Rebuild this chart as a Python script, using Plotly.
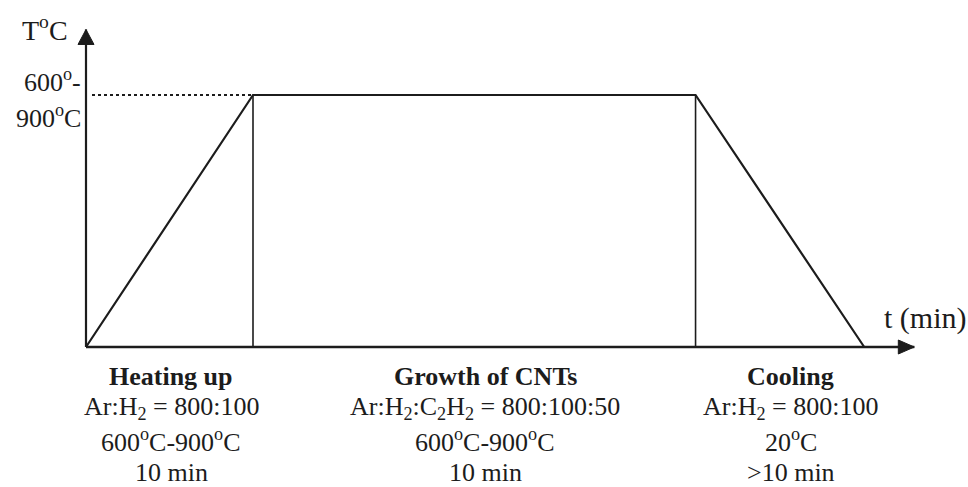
import plotly.graph_objects as go

# Schematic CVD temperature programme: heating, CNT growth, cooling
stage_t = [0, 10, 36.5, 46.6]   # stage boundaries along the (schematic) time axis
stage_T = [0, 1, 1, 0]          # normalised temperature: 0 = ambient, 1 = 600-900 °C

stage_names = ["Heating up", "Growth of CNTs", "Cooling"]
gas_ratios = [
    "Ar:H<sub>2</sub> = 800:100",
    "Ar:H<sub>2</sub>:C<sub>2</sub>H<sub>2</sub> = 800:100:50",
    "Ar:H<sub>2</sub> = 800:100",
]
stage_temps = ["600<sup>o</sup>C-900<sup>o</sup>C", "600<sup>o</sup>C-900<sup>o</sup>C", "20<sup>o</sup>C"]
stage_times = ["10 min", "10 min", "&gt;10 min"]
stage_label_t = [5.1, 23.9, 42.2]

t_axis_end = 49.6
T_axis_end = 1.26

INK = "#1c1c1c"
FONT = "Liberation Serif"
W, H = 968, 487
X0_PX, Y0_PX = 86, 347
PX_PER_T, PX_PER_T_UNIT = 16.7, 252.0


def y_at(px):
    return (Y0_PX - px) / PX_PER_T_UNIT


def x_at(px):
    return (px - X0_PX) / PX_PER_T


fig = go.Figure()

# axes
fig.add_trace(go.Scatter(x=[0, t_axis_end], y=[0, 0], mode="lines",
                         line=dict(color=INK, width=2.5), hoverinfo="skip"))
fig.add_trace(go.Scatter(x=[0, 0], y=[0, T_axis_end], mode="lines",
                         line=dict(color=INK, width=2.2), hoverinfo="skip"))

# dotted guide from the T axis to the growth temperature
fig.add_trace(go.Scatter(x=[x_at(92), stage_t[1]], y=[stage_T[1], stage_T[1]], mode="lines",
                         line=dict(color=INK, width=2, dash="dot"), hoverinfo="skip"))

# stage separators
fig.add_trace(go.Scatter(x=[stage_t[1], stage_t[1], None, stage_t[2], stage_t[2]],
                         y=[0, stage_T[1], None, 0, stage_T[2]], mode="lines",
                         line=dict(color=INK, width=1.6), hoverinfo="skip"))

# temperature profile
fig.add_trace(go.Scatter(x=stage_t, y=stage_T, mode="lines",
                         line=dict(color=INK, width=2.2), hoverinfo="skip"))

# arrow heads
fig.add_shape(type="path", xref="x", yref="y", xsizemode="pixel", ysizemode="pixel",
              xanchor=0, yanchor=T_axis_end, path="M-8,-15 L8,-15 L0,0 Z",
              fillcolor=INK, line=dict(color=INK, width=1))
fig.add_shape(type="path", xref="x", yref="y", xsizemode="pixel", ysizemode="pixel",
              xanchor=t_axis_end, yanchor=0, path="M-16,-7 L-16,7 L0,0 Z",
              fillcolor=INK, line=dict(color=INK, width=1))

annotations = []
fs = 26
annotations.append(dict(x=x_at(20), y=y_at(28), text="T<sup>o</sup>C", xanchor="left",
                        yanchor="middle", showarrow=False, font=dict(size=28)))
annotations.append(dict(x=x_at(82), y=y_at(80), text="600<sup>o</sup>-", xanchor="right",
                        yanchor="middle", showarrow=False, borderpad=0, font=dict(size=26)))
annotations.append(dict(x=x_at(82), y=y_at(116), text="900<sup>o</sup>C", xanchor="right",
                        yanchor="middle", showarrow=False, borderpad=0, font=dict(size=26)))
annotations.append(dict(x=x_at(882), y=y_at(318), text="t (min)", xanchor="left",
                        yanchor="middle", showarrow=False, font=dict(size=30)))

line_centres = [y_at(376), y_at(408), y_at(440), y_at(472)]
for i in range(3):
    rows = ["<b>%s</b>" % stage_names[i], gas_ratios[i], stage_temps[i], stage_times[i]]
    for row, yc in zip(rows, line_centres):
        annotations.append(dict(x=stage_label_t[i], y=yc, text=row, xanchor="center",
                                yanchor="middle", showarrow=False, borderpad=0,
                                font=dict(size=fs)))

fig.update_layout(
    width=W, height=H,
    margin=dict(l=0, r=0, t=0, b=0),
    paper_bgcolor="white", plot_bgcolor="white",
    showlegend=False,
    font=dict(family=FONT, color=INK),
    xaxis=dict(range=[x_at(0), x_at(W)], visible=False, fixedrange=True),
    yaxis=dict(range=[y_at(H), y_at(0)], visible=False, fixedrange=True),
    annotations=annotations,
)

fig.write_html("out.html")
